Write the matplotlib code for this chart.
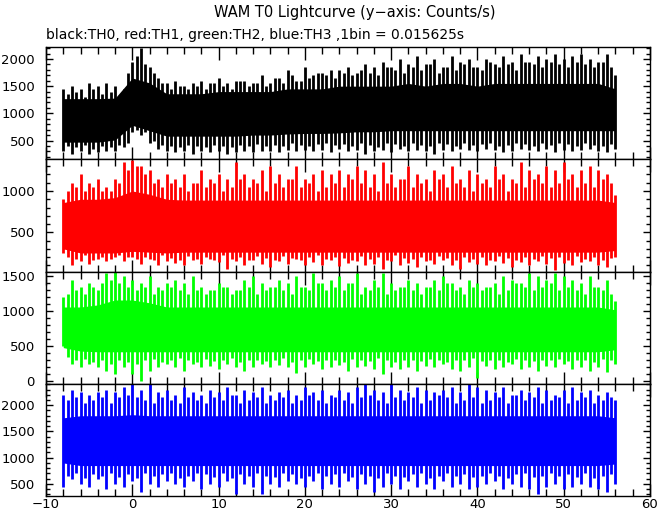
import numpy as np
import matplotlib.pyplot as plt
from matplotlib.ticker import MultipleLocator

# =========================
# Data (counts/s)
# =========================
# main spikes on whole seconds, smaller spikes on the half seconds,
# solid core band every 2 s
t_spike = list(range(-8, 57))
t_spike_b = [t + 0.5 for t in range(-8, 56)]
t_core = list(range(-8, 57, 2))

th0_hi = [1450, 1500, 1450, 1550, 1500, 1550, 1500, 1450, 1950, 2200, 1850, 1650, 1550,
          1600, 1500, 1550, 1600, 1550, 1650, 1550, 1600, 1600, 1550, 1700, 1550, 1650,
          1800, 1600, 1850, 1700, 1750, 1800, 1800, 1850, 1750, 1900, 1850, 1950, 1850,
          2000, 1900, 2050, 1900, 2000, 1850, 2050, 1950, 2000, 1850, 2000, 1900, 2050,
          1950, 2100, 1950, 2050, 2000, 2100, 2000, 2050, 2100, 2000, 1950, 2100, 1700]
th0_lo = [300, 250, 300, 250, 280, 300, 300, 380, 650, 600, 450, 350, 300, 280, 300, 250,
          300, 280, 300, 250, 280, 300, 280, 300, 300, 280, 330, 300, 320, 300, 330, 280,
          350, 300, 330, 250, 300, 320, 280, 350, 300, 330, 300, 250, 330, 300, 350, 320,
          300, 350, 330, 280, 300, 350, 330, 300, 350, 280, 330, 300, 320, 350, 300, 280, 350]
th0_hi_b = [1350, 1400, 1300, 1450, 1350, 1400, 1300, 1750,
            2050, 1900, 1750, 1550, 1450, 1500, 1450, 1500,
            1450, 1550, 1500, 1450, 1600, 1500, 1550, 1500,
            1650, 1550, 1700, 1600, 1650, 1750, 1700, 1650,
            1750, 1700, 1800, 1750, 1700, 1850, 1800, 1750,
            1850, 1800, 1900, 1750, 1850, 1800, 1900, 1850,
            1800, 1950, 1850, 1900, 1800, 1950, 1900, 1850,
            1950, 1900, 1850, 1950, 1900, 1850, 1950, 1850]
th0_lo_b = [400, 380, 420, 350, 400, 380, 420, 450,
            700, 650, 500, 420, 400, 380, 420, 400,
            380, 420, 400, 380, 420, 400, 430, 400,
            420, 400, 450, 420, 400, 430, 450, 420,
            430, 400, 450, 420, 380, 450, 430, 400,
            450, 420, 400, 450, 430, 400, 450, 420,
            430, 450, 400, 420, 450, 430, 400, 450,
            420, 450, 430, 400, 450, 420, 400, 430]
th0_core_hi = [1270, 1270, 1270, 1280, 1650, 1560, 1360, 1360, 1360, 1400, 1400, 1400,
               1400, 1450, 1450, 1450, 1500, 1500, 1500, 1500, 1550, 1500, 1550, 1550,
               1500, 1550, 1550, 1550, 1550, 1550, 1550, 1550, 1450]
th0_core_lo = [470, 470, 470, 510, 780, 680, 580, 580, 580, 580, 580, 600, 600, 620, 630,
               630, 640, 660, 660, 680, 680, 680, 680, 680, 680, 680, 680, 680, 680, 680,
               680, 680, 680]

th1_hi = [900, 1100, 1200, 1100, 1150, 1050, 1150, 1350, 1380, 1300, 1250, 1150, 1200,
          1150, 1200, 1100, 1250, 1150, 1200, 1150, 1350, 1200, 1150, 1250, 1300, 1200,
          1150, 1300, 1150, 1200, 1250, 1200, 1250, 1200, 1300, 1250, 1200, 1350, 1200,
          1150, 1300, 1200, 1150, 1250, 1200, 1300, 1150, 1250, 1200, 1150, 1300, 1200,
          1150, 1350, 1250, 1200, 1300, 1250, 1350, 1200, 1250, 1300, 1250, 1200, 950]
th1_lo = [250, 100, 150, 120, 180, 150, 200, 150, 200, 120, 180, 100, 150, 130, 100, 160,
          120, 180, 140, 60, 150, 100, 170, 120, 80, 150, 120, 180, 100, 140, 110, 170,
          90, 130, 150, 100, 120, 60, 150, 100, 130, 80, 150, 120, 160, 110, 60, 140, 120,
          100, 150, 130, 80, 140, 110, 150, 120, 40, 130, 100, 140, 150, 110, 80, 200]
th1_hi_b = [1000, 1050, 1000, 1050, 1000, 1000, 1100, 1250,
            1300, 1200, 1100, 1050, 1100, 1050, 1000, 1100,
            1050, 1100, 1000, 1050, 1150, 1050, 1100, 1000,
            1100, 1050, 1150, 1050, 1100, 1000, 1050, 1100,
            1050, 1150, 1100, 1050, 1000, 1100, 1050, 1150,
            1050, 1100, 1000, 1150, 1050, 1100, 1050, 1000,
            1100, 1050, 1150, 1000, 1100, 1050, 1150, 1100,
            1050, 1100, 1150, 1050, 1100, 1050, 1150, 1100]
th1_lo_b = [200, 180, 220, 160, 200, 180, 220, 200,
            180, 200, 160, 220, 190, 170, 210, 180,
            200, 160, 220, 180, 200, 170, 210, 190,
            170, 210, 190, 160, 200, 220, 180, 200,
            190, 160, 210, 180, 200, 170, 220, 190,
            180, 200, 160, 210, 190, 170, 200, 180,
            200, 170, 210, 190, 160, 200, 180, 210,
            190, 200, 170, 210, 180, 200, 160, 190]
th1_core_hi = [860, 900, 900, 920, 1000, 960, 900, 890, 890, 890, 890, 890, 890, 890,
               890, 890, 890, 890, 890, 890, 890, 890, 890, 890, 890, 890, 890, 890,
               890, 890, 890, 890, 860]
th1_core_lo = [300, 250, 250, 250, 270, 260, 250, 260, 260, 260, 260, 260, 260, 260,
               260, 260, 260, 260, 260, 260, 260, 260, 260, 260, 260, 260, 260, 260,
               260, 260, 260, 260, 280]

th2_hi = [1200, 1450, 1350, 1400, 1300, 1550, 1560, 1500, 1450, 1400, 1500, 1350, 1400,
          1450, 1400, 1500, 1350, 1300, 1400, 1350, 1300, 1450, 1500, 1400, 1350, 1450,
          1400, 1500, 1350, 1550, 1400, 1450, 1500, 1400, 1550, 1350, 1450, 1550, 1400,
          1350, 1450, 1400, 1350, 1450, 1500, 1400, 1350, 1450, 1400, 1350, 1400, 1500,
          1450, 1400, 1550, 1500, 1450, 1550, 1500, 1450, 1400, 1500, 1350, 1450, 1150]
th2_lo = [500, 250, 200, 250, 200, 150, 100, 200, 100, 0, 150, 200, 250, 200, 150, 250,
          200, 220, 180, 250, 200, 150, 200, 250, 200, 230, 200, 120, 200, 250, 180, 200,
          230, 150, 200, 220, 180, 100, 200, 180, 200, 150, 220, 200, 250, 180, 150, 200,
          50, 220, 180, 200, 250, 180, 200, 150, 220, 200, 250, 180, 200, 150, 200, 130, 250]
th2_hi_b = [1250, 1300, 1250, 1350, 1400, 1450, 1400, 1350,
            1300, 1350, 1250, 1300, 1350, 1300, 1250, 1300,
            1250, 1300, 1350, 1250, 1300, 1350, 1250, 1300,
            1350, 1300, 1250, 1350, 1300, 1400, 1300, 1350,
            1300, 1400, 1250, 1300, 1350, 1250, 1300, 1350,
            1300, 1250, 1350, 1300, 1400, 1300, 1250, 1350,
            1300, 1350, 1250, 1300, 1400, 1350, 1300, 1350,
            1400, 1300, 1350, 1300, 1250, 1350, 1300, 1250]
th2_lo_b = [350, 300, 320, 280, 300, 250, 300, 280,
            250, 300, 320, 280, 300, 330, 300, 280,
            320, 290, 300, 330, 280, 310, 300, 290,
            300, 330, 280, 300, 320, 290, 310, 300,
            280, 320, 300, 290, 330, 300, 280, 310,
            300, 290, 320, 300, 280, 310, 300, 330,
            290, 310, 300, 280, 320, 300, 290, 310,
            300, 320, 290, 310, 300, 280, 320, 300]
th2_core_hi = [1060, 1060, 1090, 1160, 1160, 1120, 1060, 1060, 1060, 1060, 1060, 1060,
               1060, 1060, 1060, 1060, 1060, 1060, 1060, 1060, 1060, 1060, 1060, 1060,
               1060, 1060, 1060, 1060, 1060, 1060, 1060, 1060, 1020]
th2_core_lo = [480, 430, 420, 420, 420, 420, 420, 420, 420, 420, 420, 420, 420, 420,
               420, 420, 420, 420, 420, 420, 420, 420, 420, 420, 420, 420, 420, 420,
               420, 420, 420, 420, 450]

th3_hi = [2200, 2300, 2250, 2200, 2250, 2300, 2250, 2350, 2400, 2300, 2400, 2250, 2300,
          2200, 2350, 2250, 2200, 2300, 2250, 2350, 2200, 2300, 2250, 2350, 2200, 2250,
          2300, 2200, 2350, 2250, 2300, 2200, 2300, 2250, 2350, 2400, 2300, 2250, 2400,
          2300, 2250, 2350, 2300, 2250, 2300, 2350, 2250, 2400, 2350, 2300, 2250, 2350,
          2200, 2300, 2250, 2350, 2300, 2200, 2300, 2350, 2250, 2300, 2200, 2250, 2100]
th3_lo = [450, 600, 500, 450, 600, 400, 500, 450, 550, 350, 500, 450, 550, 500, 450, 550,
          400, 500, 450, 550, 300, 500, 450, 300, 500, 450, 550, 500, 450, 550, 400, 500,
          450, 550, 400, 500, 350, 450, 500, 400, 550, 450, 500, 400, 550, 450, 500, 400,
          450, 500, 550, 400, 500, 450, 400, 300, 450, 500, 400, 450, 500, 450, 400, 350, 500]
th3_hi_b = [2100, 2150, 2050, 2100, 2150, 2050, 2150, 2200,
            2150, 2100, 2050, 2150, 2100, 2050, 2150, 2100,
            2050, 2150, 2100, 2200, 2050, 2100, 2150, 2050,
            2100, 2150, 2050, 2100, 2200, 2100, 2050, 2150,
            2100, 2050, 2150, 2200, 2100, 2050, 2150, 2100,
            2150, 2050, 2100, 2200, 2150, 2050, 2100, 2150,
            2050, 2100, 2150, 2050, 2200, 2100, 2150, 2050,
            2100, 2150, 2050, 2100, 2150, 2050, 2100, 2150]
th3_lo_b = [650, 700, 620, 680, 650, 700, 640, 680,
            620, 700, 650, 680, 700, 620, 660, 700,
            680, 640, 700, 620, 680, 650, 700, 660,
            640, 700, 680, 620, 660, 700, 650, 680,
            700, 640, 680, 650, 620, 700, 660, 640,
            680, 700, 620, 660, 700, 650, 680, 640,
            660, 700, 650, 620, 680, 700, 640, 660,
            700, 650, 680, 640, 700, 620, 660, 680]
th3_core_hi = [1760, 1800, 1800, 1800, 1820, 1800, 1800, 1800, 1800, 1800, 1800, 1800,
               1800, 1800, 1800, 1800, 1800, 1800, 1800, 1800, 1800, 1800, 1800, 1800,
               1800, 1800, 1800, 1800, 1800, 1800, 1800, 1800, 1760]
th3_core_lo = [900, 850, 850, 850, 850, 850, 850, 850, 850, 850, 850, 850, 850, 850,
               850, 850, 850, 850, 850, 850, 850, 850, 850, 850, 850, 850, 850, 850,
               850, 850, 850, 850, 880]

channels = [
    ("black", th0_hi, th0_lo, th0_hi_b, th0_lo_b, th0_core_hi, th0_core_lo,
     (160, 2220), [500, 1000, 1500, 2000]),
    ("#ff0000", th1_hi, th1_lo, th1_hi_b, th1_lo_b, th1_core_hi, th1_core_lo,
     (20, 1387), [500, 1000]),
    ("#00ff00", th2_hi, th2_lo, th2_hi_b, th2_lo_b, th2_core_hi, th2_core_lo,
     (-40, 1560), [0, 500, 1000, 1500]),
    ("#0000ff", th3_hi, th3_lo, th3_hi_b, th3_lo_b, th3_core_hi, th3_core_lo,
     (270, 2405), [500, 1000, 1500, 2000]),
]

title = "WAM T0 Lightcurve (y\u2212axis: Counts/s)"
subtitle = "black:TH0, red:TH1, green:TH2, blue:TH3 ,1bin = 0.015625s"

plt.rcParams["font.family"] = "DejaVu Sans"
plt.rcParams["font.size"] = 9.5

fig = plt.figure(figsize=(6.72, 5.15), dpi=100)

left, width = 46 / 672, 604 / 672
tops = [47, 159, 272, 384]
heights = [112, 113, 112, 112]

for i, (color, hi, lo, hi_b, lo_b, chi, clo, ylim, yt) in enumerate(channels):
    bottom = 1 - (tops[i] + heights[i]) / 515
    ax = fig.add_axes([left, bottom, width, heights[i] / 515])
    ax.fill_between(t_core, clo, chi, color=color, lw=0)
    ax.vlines(t_spike, lo, hi, color=color, lw=2.0)
    ax.vlines(t_spike_b, lo_b, hi_b, color=color, lw=2.0)
    ax.set_xlim(-10, 60)
    ax.set_ylim(*ylim)
    ax.set_yticks(yt)
    ax.yaxis.set_minor_locator(MultipleLocator(100))
    ax.xaxis.set_major_locator(MultipleLocator(10))
    ax.xaxis.set_minor_locator(MultipleLocator(2))
    ax.tick_params(axis="x", which="major", direction="in", top=True, length=9, width=1)
    ax.tick_params(axis="x", which="minor", direction="in", top=True, length=5, width=1)
    ax.tick_params(axis="y", which="major", direction="in", right=True, length=5,
                   width=1, pad=8)
    ax.tick_params(axis="y", which="minor", direction="in", right=True, length=3, width=1)
    for s in ax.spines.values():
        s.set_linewidth(1.0)
    if i < 3:
        ax.tick_params(axis="x", labelbottom=False)
    else:
        ax.set_xticks([-10, 0, 10, 20, 30, 40, 50, 60])
        ax.tick_params(axis="x", pad=1.5)

fig.text(355 / 672, 1 - 13 / 515, title, ha="center", va="center", fontsize=10.5)
fig.text(46 / 672, 1 - 35 / 515, subtitle, ha="left", va="center", fontsize=10)

fig.savefig("out.png", dpi=100)
